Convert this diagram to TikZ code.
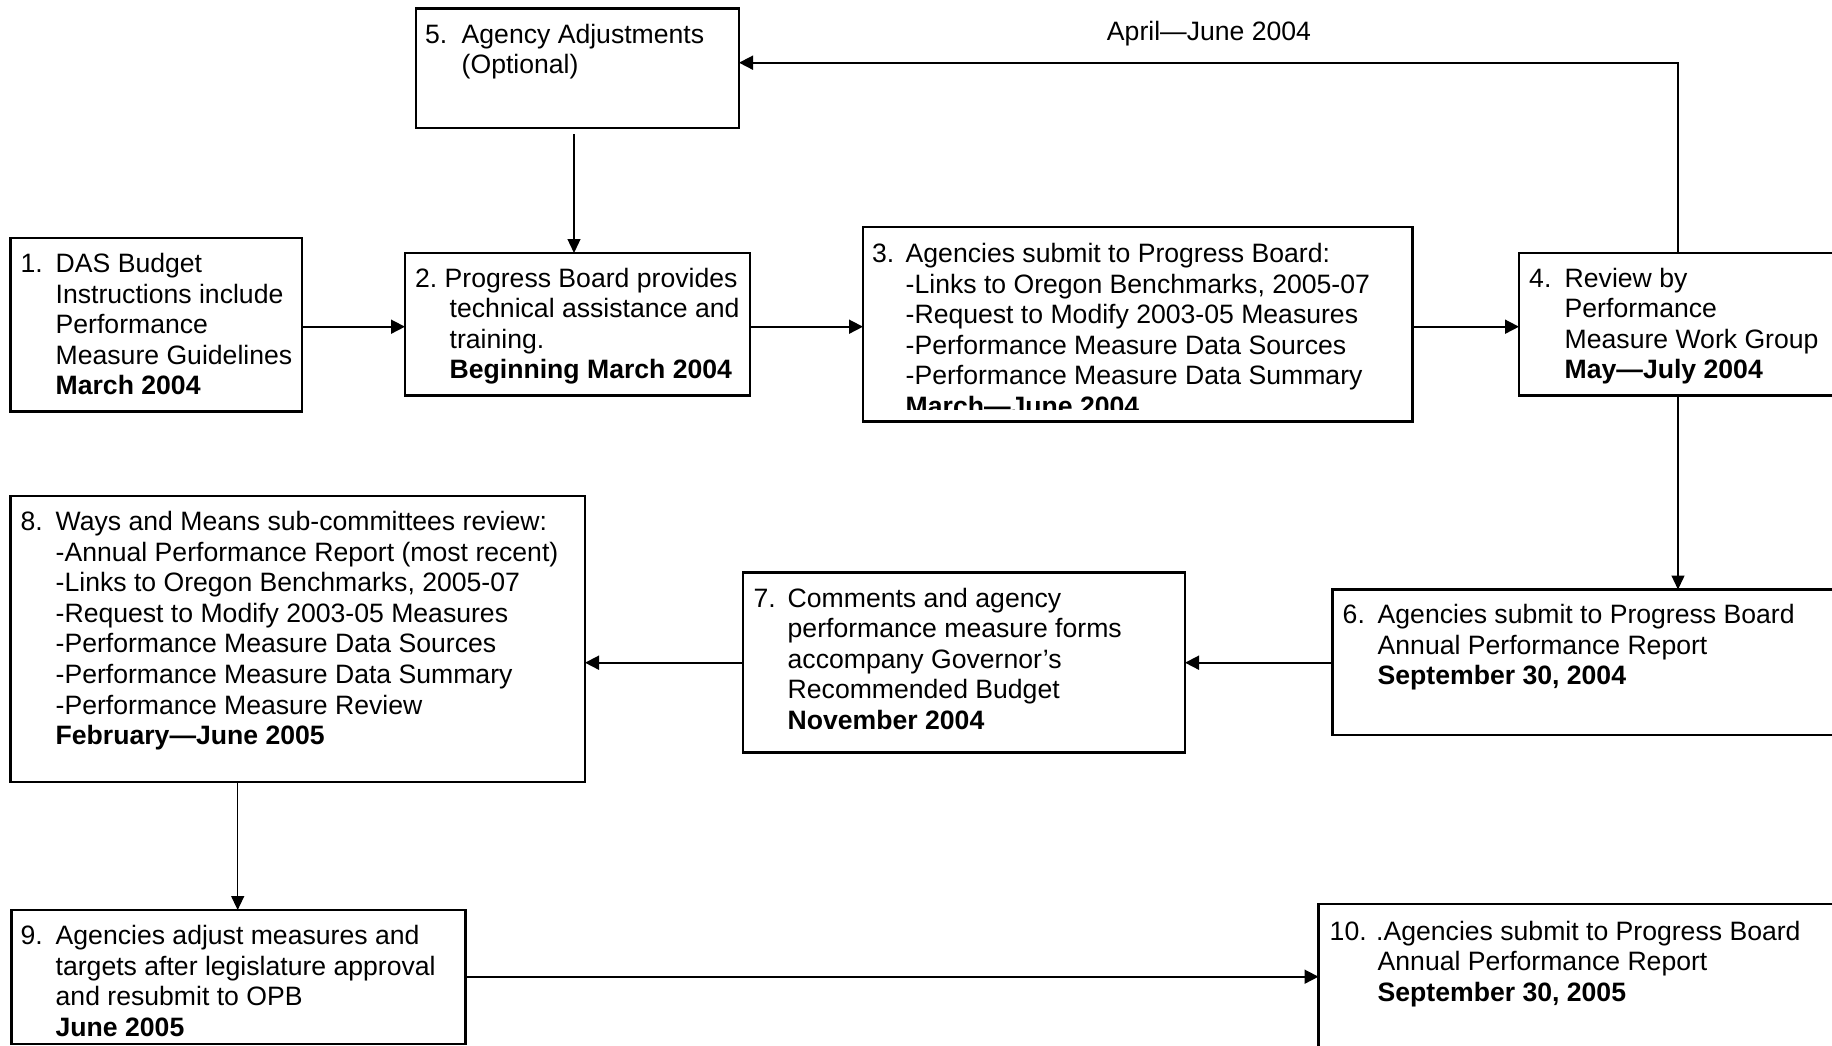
\documentclass[tikz,border=0pt]{standalone}
\usepackage{fontspec}
\setmainfont{Liberation Sans}
\usetikzlibrary{arrows.meta}
\newcommand\blocktext[1]{\parbox[t]{800pt}{\raggedright #1}}
\begin{document}
\begin{tikzpicture}[x=1pt,y=-1pt,
  box/.style={draw, line width=2.2pt, rectangle, outer sep=0pt, inner sep=0pt, anchor=north west},
  txt/.style={inner sep=0pt, anchor=base west, font=\fontsize{26.6}{30.6}\selectfont},
  conn/.style={line width=1.7pt, -{Triangle[length=14pt,width=14pt]}},
  vconn/.style={line width=1.3pt, -{Triangle[length=14pt,width=13pt]}}]
\useasboundingbox (0,0) rectangle (1832,1045);
\clip (0,0) rectangle (1832,1045);

% boxes
\node[box, minimum width=291.5pt, minimum height=173.5pt] (b1) at (10.5,238) {};
\node[box, minimum width=345pt, minimum height=142.5pt] (b2) at (405,253) {};
\node[box, minimum width=549.5pt, minimum height=194.5pt] (b3) at (863,227) {};
\node[box, minimum width=331pt, minimum height=142.5pt] (b4) at (1519,253) {};
\node[box, minimum width=323pt, minimum height=119.5pt] (b5) at (416,8.5) {};
\node[box, minimum width=517.5pt, minimum height=145.5pt] (b6) at (1332.5,589.5) {};
\node[box, minimum width=442pt, minimum height=180pt] (b7) at (743,572.5) {};
\node[box, minimum width=574.5pt, minimum height=286pt] (b8) at (10.5,496) {};
\node[box, minimum width=454pt, minimum height=134pt] (b9) at (11.5,910) {};
\node[box, minimum width=531.5pt, minimum height=156pt] (b10) at (1318.5,904) {};

% texts
\node[txt] (n1) at (20.5,272.5) {1.};
\node[txt] (t1) at (55.5,272.5) {\blocktext{DAS Budget\\Instructions include\\Performance\\Measure Guidelines\\\textbf{March 2004}}};

\node[txt] (n2) at (415,287) {2.};
\node[txt] (t2a) at (444.5,287) {Progress Board provides};
\node[txt] (t2) at (449.5,317.6) {\blocktext{technical assistance and\\training.\\\textbf{Beginning March 2004}}};

\node[txt] (n3) at (872,262.5) {3.};
\begin{scope}
\clip (864,228) rectangle (1411.5,409);
\node[txt] (t3) at (905.5,262.5) {\blocktext{Agencies submit to Progress Board:\\-Links to Oregon Benchmarks, 2005-07\\-Request to Modify 2003-05 Measures\\-Performance Measure Data Sources\\-Performance Measure Data Summary\\\textbf{March—June 2004}}};
\end{scope}

\node[txt] (n4) at (1529,287) {4.};
\node[txt] (t4) at (1564.5,287) {\blocktext{Review by\\Performance\\Measure Work Group\\\textbf{May—July 2004}}};

\node[txt] (n5) at (425,43) {5.};
\node[txt] (t5) at (461.5,43) {\blocktext{Agency Adjustments\\(Optional)}};

\node[txt] (n6) at (1342.5,623.5) {6.};
\node[txt] (t6) at (1377.5,623.5) {\blocktext{Agencies submit to Progress Board\\Annual Performance Report\\\textbf{September 30, 2004}}};

\node[txt] (n7) at (753.5,607) {7.};
\node[txt] (t7) at (787.5,607) {\blocktext{Comments and agency\\performance measure forms\\accompany Governor’s\\Recommended Budget\\\textbf{November 2004}}};

\node[txt] (n8) at (20.5,530.5) {8.};
\node[txt] (t8) at (55.5,530.5) {\blocktext{Ways and Means sub-committees review:\\-Annual Performance Report (most recent)\\-Links to Oregon Benchmarks, 2005-07\\-Request to Modify 2003-05 Measures\\-Performance Measure Data Sources\\-Performance Measure Data Summary\\-Performance Measure Review\\\textbf{February—June 2005}}};

\node[txt] (n9) at (20.5,944.5) {9.};
\node[txt] (t9) at (55.5,944.5) {\blocktext{Agencies adjust measures and\\targets after legislature approval\\and resubmit to OPB\\\textbf{June 2005}}};

\node[txt] (n10) at (1329.5,940) {10.};
\node[txt] (t10) at (1376,940) {.Agencies submit to Progress Board};
\node[txt] (t10b) at (1377.5,970.6) {\blocktext{Annual Performance Report\\\textbf{September 30, 2005}}};

\node[txt, anchor=base] (lab) at (1209,40) {April—June 2004};

% connector helper coordinates
\coordinate (r1) at (0,326.7);
\coordinate (r2) at (0,662.7);
\coordinate (r3) at (0,976.7);
\coordinate (fb) at (1678,62.7);
\coordinate (c52) at (574,134);
\coordinate (c89) at (237.7,0);

% connectors
\draw[vconn] (c52) -- (c52 |- b2.north);
\draw[conn] (b1.east |- r1) -- (b2.west |- r1);
\draw[conn] (b2.east |- r1) -- (b3.west |- r1);
\draw[conn] (b3.east |- r1) -- (b4.west |- r1);
\draw[conn] (b4.north -| fb) -- (fb) -- (fb -| b5.east);
\draw[vconn] (b4.south -| fb) -- (b6.north -| fb);
\draw[conn] (b6.west |- r2) -- (b7.east |- r2);
\draw[conn] (b7.west |- r2) -- (b8.east |- r2);
\draw[vconn] (b8.south -| c89) -- (b9.north -| c89);
\draw[conn] (b9.east |- r3) -- (b10.west |- r3);
\end{tikzpicture}
\end{document}
